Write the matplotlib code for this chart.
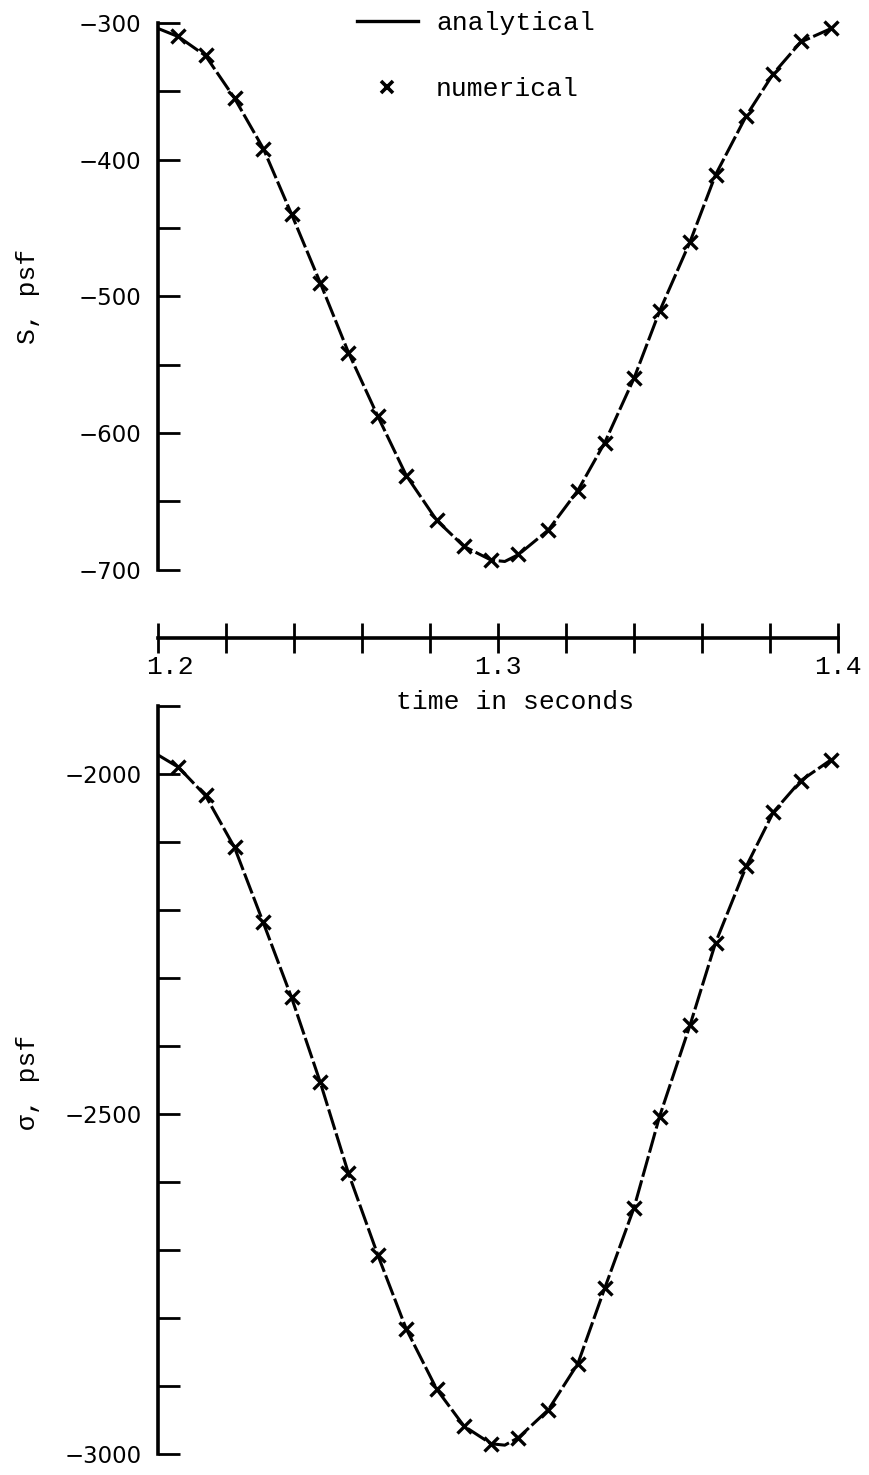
import matplotlib
matplotlib.use("Agg")
import matplotlib.pyplot as plt
from matplotlib.lines import Line2D
from matplotlib.ticker import FixedLocator, NullFormatter
import matplotlib.transforms as mtransforms

# time steps of the numerical solution (s)
t_num = [1.206, 1.214, 1.2225, 1.231, 1.2393, 1.2477, 1.256, 1.2647,
         1.273, 1.282, 1.290, 1.298, 1.306, 1.3148, 1.3235, 1.3314,
         1.340, 1.3475, 1.3565, 1.364, 1.373, 1.381, 1.389, 1.398]

# S, psf - numerical
S_num = [-309.6, -323.4, -354.8, -392.0, -439.8, -490.3, -541.3, -587.8,
         -631.2, -663.6, -682.7, -692.8, -688.8, -671.0, -642.3, -607.2,
         -559.9, -510.8, -460.3, -411.1, -368.0, -337.2, -313.3, -303.5]

# sigma, psf - numerical
sig_num = [-1989, -2031, -2107, -2218, -2328, -2453, -2587, -2708,
           -2816, -2905, -2959, -2985, -2976, -2935, -2867, -2756,
           -2638, -2504, -2369, -2248, -2136, -2056, -2010, -1979]

# analytical curves
t_an = [1.200, 1.206, 1.214, 1.2225, 1.231, 1.2393, 1.2477, 1.256, 1.2647,
        1.273, 1.282, 1.290, 1.298, 1.302, 1.306, 1.3148, 1.3235, 1.3314,
        1.340, 1.3475, 1.3565, 1.364, 1.373, 1.381, 1.389, 1.398]
S_an = [-304, -310, -324, -355, -392, -440, -490, -541, -588,
        -631, -664, -683, -693, -694, -689, -671, -642, -607,
        -560, -511, -460, -411, -368, -337, -314, -304]
sig_an = [-1972, -1990, -2032, -2108, -2219, -2329, -2453, -2587, -2708,
          -2816, -2905, -2959, -2985, -2987, -2976, -2935, -2867, -2756,
          -2638, -2504, -2369, -2248, -2136, -2056, -2010, -1979]

x_ticks = [1.20, 1.22, 1.24, 1.26, 1.28, 1.30, 1.32, 1.34, 1.36, 1.38, 1.40]
x_ticklabels = ["1.2", "", "", "", "", "1.3", "", "", "", "", "1.4"]
S_ticks = [-700, -650, -600, -550, -500, -450, -400, -350, -300]
S_labels = [-700, -600, -500, -400, -300]
sig_ticks = [-3000, -2900, -2800, -2700, -2600, -2500, -2400, -2300,
             -2200, -2100, -2000, -1900]
sig_labels = [-3000, -2500, -2000]

MONO = "Liberation Mono"
W, H = 870, 1475

line_kw = dict(color="black", lw=2.2, dashes=(7, 1.2), solid_capstyle="butt",
               dash_capstyle="butt")
mark_kw = dict(ls="none", marker="x", ms=10, mew=2.4, color="black",
               clip_on=False)

fig = plt.figure(figsize=(W / 100, H / 100), dpi=100)


def style_y(ax, ticks, labels, lo, hi):
    for s in ["top", "right", "bottom"]:
        ax.spines[s].set_visible(False)
    ax.spines["left"].set_linewidth(2.6)
    ax.spines["left"].set_bounds(lo, hi)
    ax.yaxis.set_major_locator(FixedLocator(labels))
    ax.yaxis.set_minor_locator(FixedLocator(ticks))
    ax.tick_params(axis="y", which="both", direction="in", length=16,
                   width=2.0, pad=12, labelsize=16.5)
    ax.yaxis.set_minor_formatter(NullFormatter())


# upper panel: S
ax1 = fig.add_axes([158 / W, 1 - 638 / H, 680 / W, (638 - 23) / H])
ax1.set_xlim(1.2, 1.4)
ax1.set_ylim(-750, -300)
ax1.plot(t_an, S_an, **line_kw)
ax1.plot(t_num, S_num, **mark_kw)
style_y(ax1, S_ticks, S_labels, -700, -300)
ax1.spines["bottom"].set_visible(True)
ax1.spines["bottom"].set_linewidth(2.6)
ax1.set_xticks(x_ticks)
ax1.set_xticklabels(x_ticklabels, family=MONO, fontsize=19)
ax1.tick_params(axis="x", direction="inout", length=21, width=2.0, pad=2)
first = ax1.get_xticklabels()[0]
first.set_transform(first.get_transform() +
                    mtransforms.ScaledTranslation(12 / 100, 0, fig.dpi_scale_trans))
ax1.set_ylabel("S, psf", family=MONO, fontsize=19)
ax1.yaxis.set_label_coords((40 - 158) / 680, (638 - 296) / 615)

fig.text(515 / W, 1 - 702 / H, "time in seconds", family=MONO, fontsize=19,
         ha="center", va="center")

handles = [Line2D([], [], color="black", lw=2.4),
           Line2D([], [], ls="none", marker="x", ms=9, mew=2.6, color="black")]
ax1.legend(handles, ["analytical", "numerical"], loc="upper left",
           bbox_to_anchor=(357 / W, 1 - 11 / H), bbox_transform=fig.transFigure,
           frameon=False, borderpad=0, borderaxespad=0, handlelength=2.3,
           handletextpad=0.7, labelspacing=1.6, prop={"family": MONO, "size": 19})

# lower panel: sigma
ax2 = fig.add_axes([158 / W, 1 - 1454 / H, 680 / W, (1454 - 706) / H])
ax2.set_xlim(1.2, 1.4)
ax2.set_ylim(-3000, -1900)
ax2.plot(t_an, sig_an, **line_kw)
ax2.plot(t_num, sig_num, **mark_kw)
style_y(ax2, sig_ticks, sig_labels, -3000, -1900)
ax2.set_xticks([])
ax2.set_ylabel("σ, psf", family=MONO, fontsize=19)
ax2.yaxis.set_label_coords((40 - 158) / 680, (1454 - 1082) / 748)

fig.savefig("out.png", dpi=100)
